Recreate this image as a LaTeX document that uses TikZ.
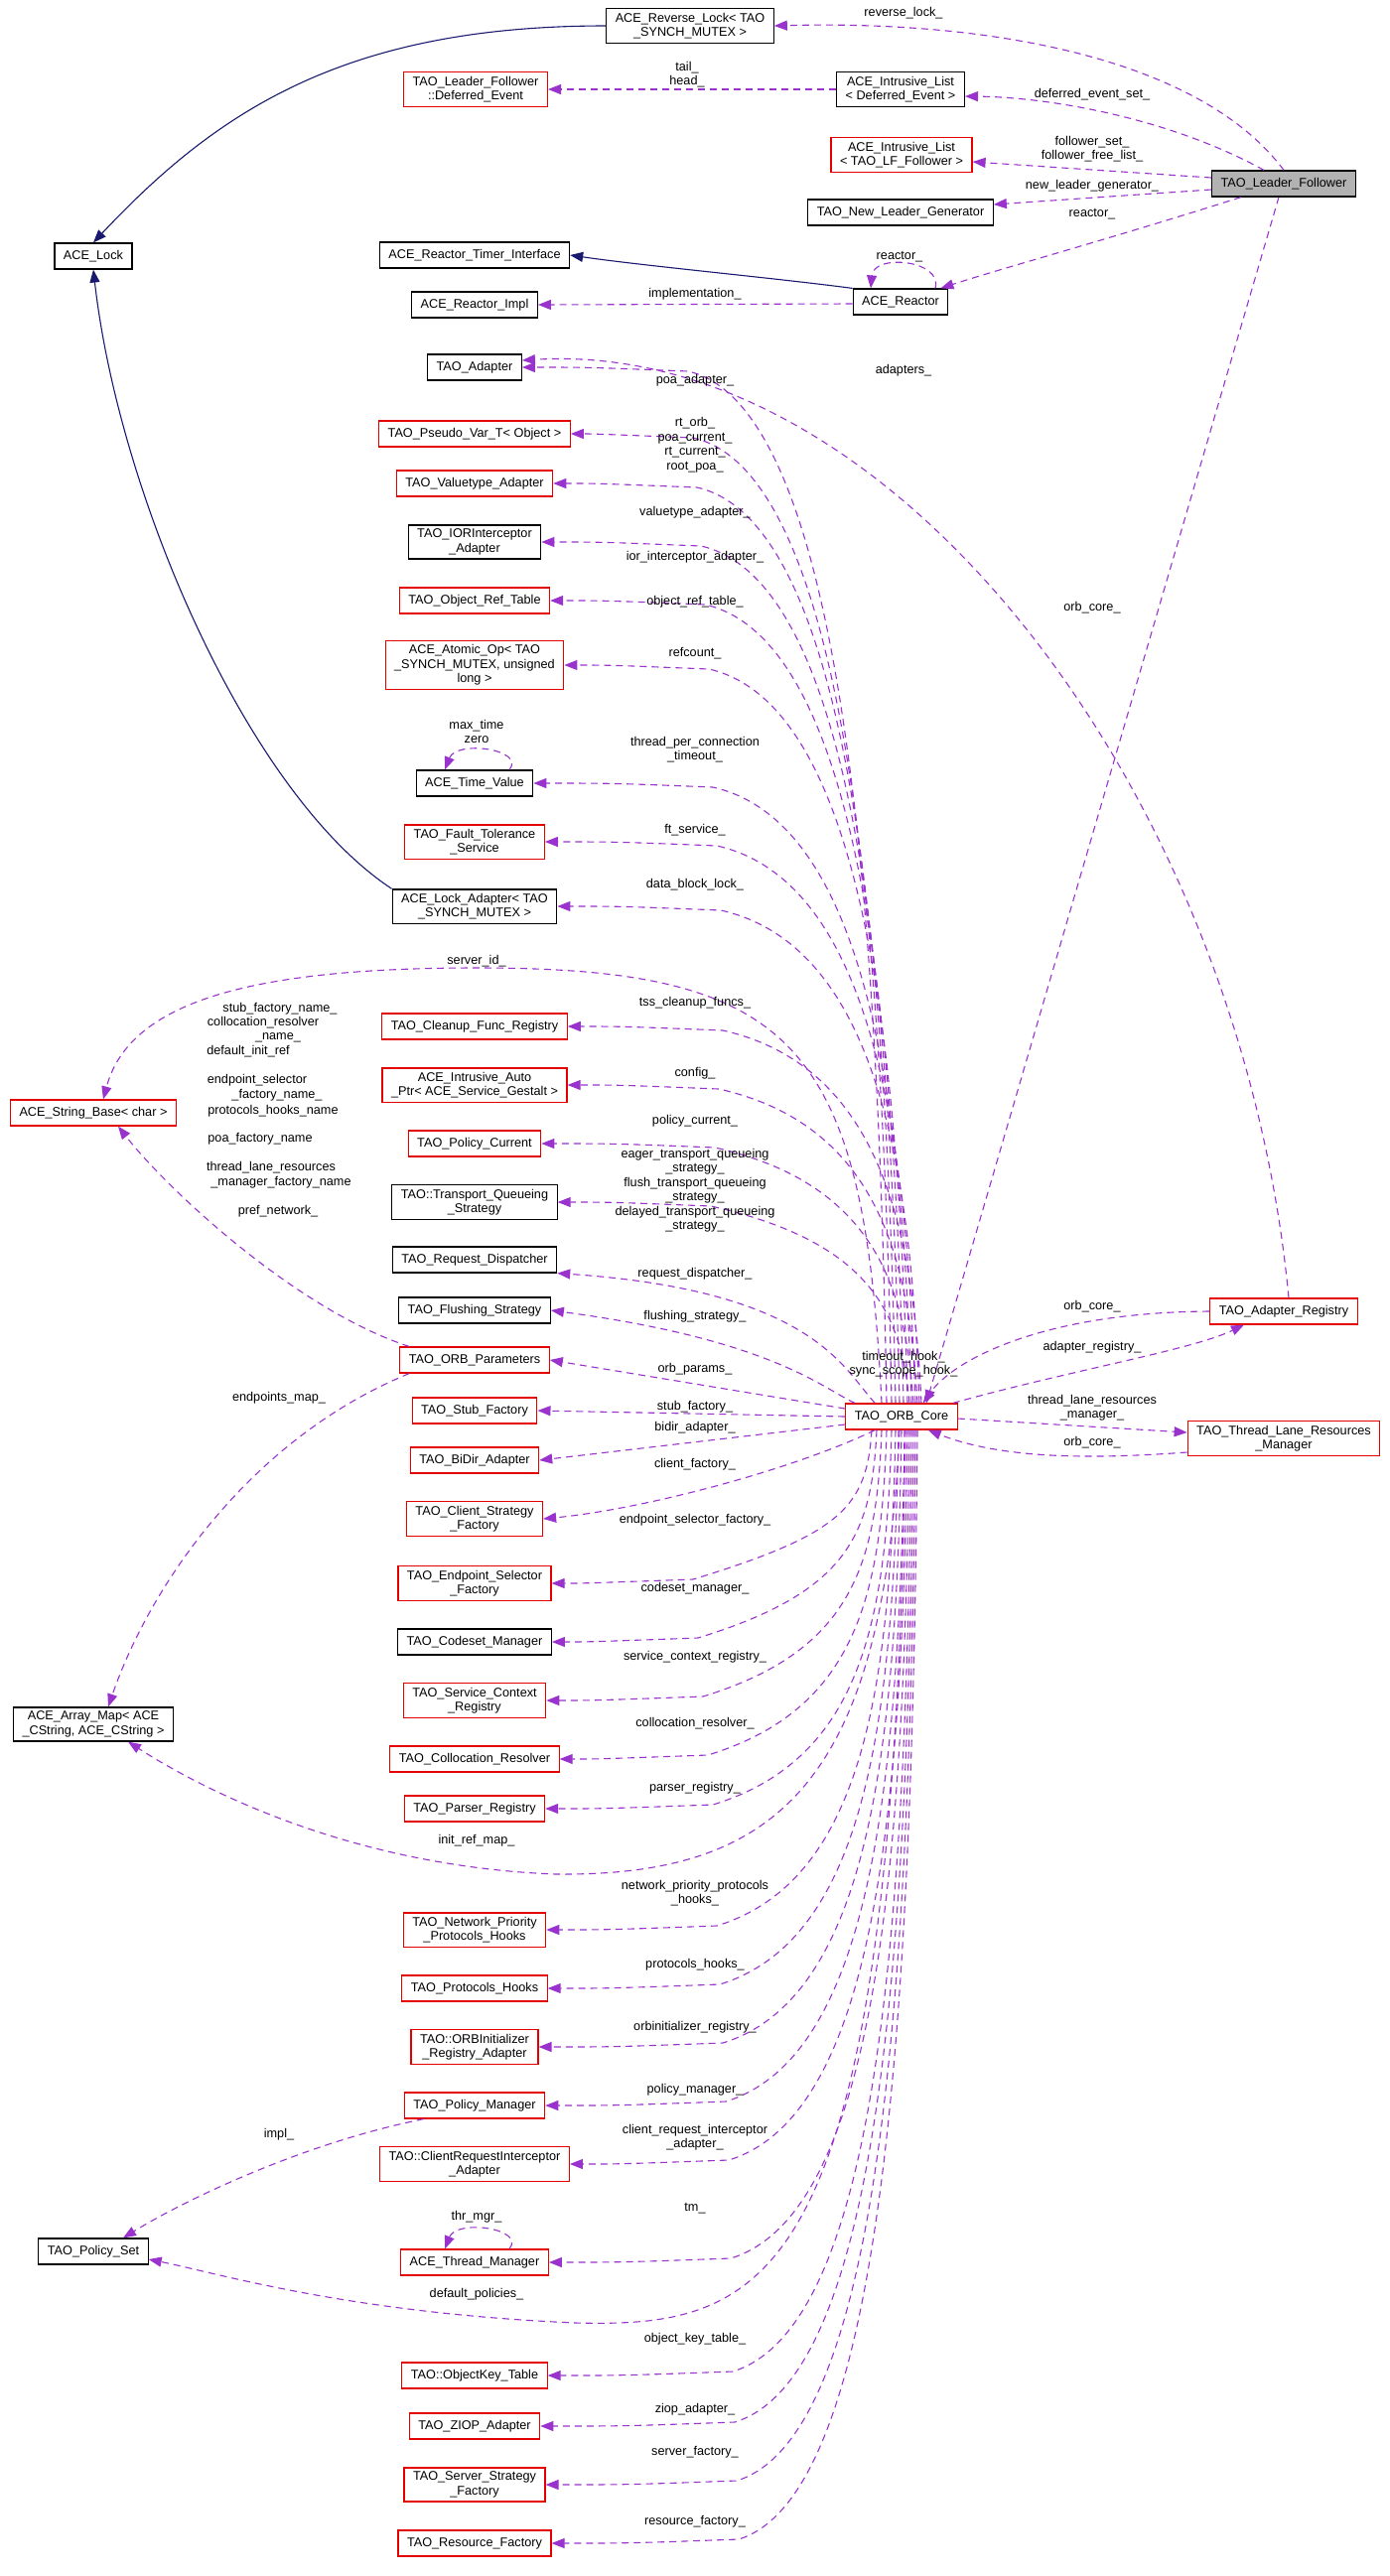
\documentclass[tikz,border=0pt]{standalone}
\usepackage{fontspec}
\setmainfont{Liberation Sans}
\usetikzlibrary{arrows.meta,calc}
\definecolor{dep}{HTML}{9A32CD}
\definecolor{inh}{HTML}{191970}
\tikzset{
  bx/.style={draw=black,line width=1.2pt,fill=white,align=center,inner xsep=9pt,inner ysep=4pt,minimum height=26pt,font=\fontsize{12.7}{14.5}\selectfont},
  rb/.style={bx,draw=red!90!black},
  lb/.style={align=center,inner sep=0pt,font=\fontsize{12.7}{14.5}\selectfont},
  dp/.style={draw=dep,line width=1.1pt,dash pattern=on 7pt off 5pt,-{Triangle[length=13pt,width=10pt,fill=dep]}},
  ih/.style={draw=inh,line width=1.1pt,-{Triangle[length=13pt,width=10pt,fill=inh]}},
}
\begin{document}
\begin{tikzpicture}[x=1pt,y=-1pt]
\useasboundingbox (0,0) rectangle (1400,2595);
% nodes
\node[bx] (rl) at (695,26) {ACE\_Reverse\_Lock< TAO\\\_SYNCH\_MUTEX >};
\node[rb] (de) at (479,90) {TAO\_Leader\_Follower\\::Deferred\_Event};
\node[bx] (ilde) at (907,90) {ACE\_Intrusive\_List\\< Deferred\_Event >};
\node[rb] (illf) at (908,156) {ACE\_Intrusive\_List\\< TAO\_LF\_Follower >};
\node[bx,fill=black!30] (lf) at (1293,185) {TAO\_Leader\_Follower};
\node[bx] (nlg) at (907,214) {TAO\_New\_Leader\_Generator};
\node[bx] (lock) at (94,258) {ACE\_Lock};
\node[bx] (rti) at (478,257) {ACE\_Reactor\_Timer\_Interface};
\node[bx] (rimpl) at (478,307) {ACE\_Reactor\_Impl};
\node[bx] (reac) at (907,304) {ACE\_Reactor};
\node[bx] (ad) at (478,370) {TAO\_Adapter};
\node[rb] (pv) at (478,437) {TAO\_Pseudo\_Var\_T< Object >};
\node[rb] (va) at (478,487) {TAO\_Valuetype\_Adapter};
\node[bx] (ior) at (478,546) {TAO\_IORInterceptor\\\_Adapter};
\node[rb] (ort) at (478,605) {TAO\_Object\_Ref\_Table};
\node[rb] (ao) at (478,670) {ACE\_Atomic\_Op< TAO\\\_SYNCH\_MUTEX, unsigned\\long >};
\node[bx] (tv) at (478,789) {ACE\_Time\_Value};
\node[rb] (ft) at (478,848) {TAO\_Fault\_Tolerance\\\_Service};
\node[bx] (la) at (478,913) {ACE\_Lock\_Adapter< TAO\\\_SYNCH\_MUTEX >};
\node[rb] (sb) at (94,1121) {ACE\_String\_Base< char >};
\node[rb] (cf) at (478,1034) {TAO\_Cleanup\_Func\_Registry};
\node[rb] (iap) at (478,1093) {ACE\_Intrusive\_Auto\\\_Ptr< ACE\_Service\_Gestalt >};
\node[rb] (pc) at (478,1152) {TAO\_Policy\_Current};
\node[bx] (tq) at (478,1211) {TAO::Transport\_Queueing\\\_Strategy};
\node[bx] (rd) at (478,1269) {TAO\_Request\_Dispatcher};
\node[bx] (fs) at (478,1320) {TAO\_Flushing\_Strategy};
\node[rb] (op) at (478,1370) {TAO\_ORB\_Parameters};
\node[rb] (sf) at (478,1421) {TAO\_Stub\_Factory};
\node[rb] (bd) at (478,1471) {TAO\_BiDir\_Adapter};
\node[rb] (cs) at (478,1530) {TAO\_Client\_Strategy\\\_Factory};
\node[rb] (es) at (478,1595) {TAO\_Endpoint\_Selector\\\_Factory};
\node[bx] (cm) at (478,1654) {TAO\_Codeset\_Manager};
\node[rb] (sc) at (478,1713) {TAO\_Service\_Context\\\_Registry};
\node[rb] (cr) at (478,1772) {TAO\_Collocation\_Resolver};
\node[rb] (pr) at (478,1822) {TAO\_Parser\_Registry};
\node[bx] (am) at (94,1737) {ACE\_Array\_Map< ACE\\\_CString, ACE\_CString >};
\node[rb] (np) at (478,1944) {TAO\_Network\_Priority\\\_Protocols\_Hooks};
\node[rb] (ph) at (478,2003) {TAO\_Protocols\_Hooks};
\node[rb] (oi) at (478,2062) {TAO::ORBInitializer\\\_Registry\_Adapter};
\node[rb] (pm) at (478,2121) {TAO\_Policy\_Manager};
\node[rb] (cri) at (478,2180) {TAO::ClientRequestInterceptor\\\_Adapter};
\node[rb] (tm) at (478,2279) {ACE\_Thread\_Manager};
\node[bx] (ps) at (94,2268) {TAO\_Policy\_Set};
\node[rb] (ok) at (478,2393) {TAO::ObjectKey\_Table};
\node[rb] (zi) at (478,2444) {TAO\_ZIOP\_Adapter};
\node[rb] (ss) at (478,2503) {TAO\_Server\_Strategy\\\_Factory};
\node[rb] (rf) at (478,2562) {TAO\_Resource\_Factory};
\node[rb] (core) at (908,1427) {TAO\_ORB\_Core};
\node[rb] (ar) at (1293,1321) {TAO\_Adapter\_Registry};
\node[rb] (tl) at (1293,1449) {TAO\_Thread\_Lane\_Resources\\\_Manager};
% inheritance
\draw[ih] (rl.west) .. controls (350,26) and (220,110) .. (lock.north);
\draw[ih] (la.north west) .. controls (250,800) and (120,500) .. (lock.south);
\draw[ih] (reac.north west) .. controls (780,280) and (650,268) .. (rti.east);
% leader follower
\draw[dp] (lf.north) .. controls (1210,60) and (1000,20) .. (rl.east);
\draw[dp] ($(lf.north)+(-20,0)$) .. controls (1180,120) and (1060,98) .. ($(ilde.east)+(0,7)$);
\draw[dp] ($(lf.west)+(0,-6)$) -- ($(illf.east)+(0,7)$);
\draw[dp] ($(lf.west)+(0,6)$) -- ($(nlg.east)+(0,-8)$);
\draw[dp] ($(lf.south west)+(30,0)$) .. controls (1120,240) and (1010,270) .. ($(reac.north east)+(-8,0)$);
\draw[dp] ($(lf.south)+(-5,0)$) -- ($(core.north)+(25,0)$);
\draw[dp] (ilde.west) -- (de.east);
\draw[dp] ($(reac.west)+(0,2)$) -- (rimpl.east);
\draw[dp] ($(reac.north)+(35,0)$) .. controls (950,262) and (880,255) .. ($(reac.north)+(-30,0)$);
\draw[dp] ($(tv.north)+(35,0)$) .. controls (530,755) and (460,745) .. ($(tv.north)+(-30,0)$);
\draw[dp] ($(tm.north)+(35,0)$) .. controls (530,2245) and (460,2235) .. ($(tm.north)+(-30,0)$);
% adapter registry / thread lane
\draw[dp] ($(ar.north)+(5,0)$) .. controls (1250,800) and (900,340) .. ($(ad.east)+(0,-7)$);
\draw[dp] (ar.west) .. controls (1050,1322) and (960,1370) .. ($(core.north east)+(-35,0)$);
\draw[dp] ($(core.north east)+(-5,0)$) .. controls (1080,1380) and (1200,1360) .. ($(ar.south)+(-40,0)$);
\draw[dp] ($(core.east)+(0,2)$) -- ($(tl.west)+(0,-6)$);
\draw[dp] ($(tl.west)+(0,14)$) .. controls (1100,1470) and (1010,1470) .. ($(core.south east)+(-30,0)$);
% orb core to upper column
\foreach \nm/\xs in {ad/-15,pv/-10,va/-6,ior/-2,ort/2,ao/6,tv/10,ft/14,la/18,cf/20,iap/16,pc/12,tq/8}{
  \draw[dp] let \p1=(\nm.east), \p2=($(core.north)+(\xs,0)$) in
    (\p2) .. controls ({\x2-8pt},{0.45*\y1+0.55*\y2}) and ({\x2-40pt},{\y1-40pt}) .. ({\x2-200pt},{\y1-4pt}) .. controls ({\x2-300pt},{\y1}) .. (\p1);
}
\draw[dp] ($(core.north west)+(30,0)$) .. controls (850,1380) and (820,1300) .. (rd.south east);
\draw[dp] ($(core.north west)+(10,0)$) .. controls (830,1400) and (780,1350) .. (fs.east);
\draw[dp] ($(core.west)+(0,-8)$) -- (op.east);
\draw[dp] (core.west) -- (sf.east);
\draw[dp] ($(core.west)+(0,8)$) -- (bd.east);
\draw[dp] ($(core.south west)+(30,0)$) .. controls (800,1480) and (650,1520) .. (cs.east);
% orb core to lower column
\foreach \nm/\xs in {es/-30,cm/-25,sc/-20,cr/-15,pr/-10,np/-6,ph/-3,oi/0,pm/3,cri/6,tm/8,ok/10,zi/12,ss/14,rf/16}{
  \draw[dp] let \p1=(\nm.east), \p2=($(core.south)+(\xs,0)$) in
    (\p2) .. controls ({\x2-5pt},{0.5*\y1+0.5*\y2}) and ({\x2-30pt},{\y1+50pt}) .. ({\x2-180pt},{\y1+4pt}) .. controls ({\x2-290pt},{\y1}) .. (\p1);
}
% to left column
\draw[dp] ($(core.north)+(-20,0)$) .. controls (870,1050) and (800,975) .. (480,975) .. controls (250,975) and (130,1010) .. ($(sb.north)+(10,0)$);
\draw[dp] ($(op.north west)+(10,0)$) .. controls (300,1320) and (170,1200) .. ($(sb.south)+(25,0)$);
\draw[dp] ($(op.south west)+(10,0)$) .. controls (250,1450) and (150,1600) .. ($(am.north)+(15,0)$);
\draw[dp] ($(core.south)+(-2,0)$) .. controls (890,1800) and (780,1890) .. (560,1888) .. controls (350,1880) and (200,1800) .. ($(am.south)+(35,0)$);
\draw[dp] ($(pm.south west)+(20,0)$) .. controls (300,2160) and (180,2220) .. ($(ps.north)+(30,0)$);
\draw[dp] ($(core.south)+(4,0)$) .. controls (900,2300) and (780,2345) .. (580,2340) .. controls (350,2330) and (220,2290) .. ($(ps.east)+(0,8)$);
% labels
\node[lb] at (910,13) {reverse\_lock\_};
\node[lb] at (692,75) {tail\_\\head\_};
\node[lb] at (1100,95) {deferred\_event\_set\_};
\node[lb] at (1100,150) {follower\_set\_\\follower\_free\_list\_};
\node[lb] at (1100,187) {new\_leader\_generator\_};
\node[lb] at (1100,216) {reactor\_};
\node[lb] at (906,259) {reactor\_};
\node[lb] at (700,296) {implementation\_};
\node[lb] at (910,373) {adapters\_};
\node[lb] at (1100,612) {orb\_core\_};
\node[lb] at (700,383) {poa\_adapter\_};
\node[lb] at (700,448) {rt\_orb\_\\poa\_current\_\\rt\_current\_\\root\_poa\_};
\node[lb] at (700,516) {valuetype\_adapter\_};
\node[lb] at (700,561) {ior\_interceptor\_adapter\_};
\node[lb] at (700,606) {object\_ref\_table\_};
\node[lb] at (700,658) {refcount\_};
\node[lb] at (480,737) {max\_time\\zero};
\node[lb] at (700,755) {thread\_per\_connection\\\_timeout\_};
\node[lb] at (700,836) {ft\_service\_};
\node[lb] at (700,891) {data\_block\_lock\_};
\node[lb] at (480,968) {server\_id\_};
\node[lb] at (700,1010) {tss\_cleanup\_funcs\_};
\node[lb] at (700,1081) {config\_};
\node[lb] at (700,1129) {policy\_current\_};
\node[lb] at (700,1199) {eager\_transport\_queueing\\\_strategy\_\\flush\_transport\_queueing\\\_strategy\_\\delayed\_transport\_queueing\\\_strategy\_};
\node[lb] at (700,1283) {request\_dispatcher\_};
\node[lb] at (700,1326) {flushing\_strategy\_};
\node[lb] at (700,1379) {orb\_params\_};
\node[lb] at (700,1417) {stub\_factory\_};
\node[lb] at (700,1438) {bidir\_adapter\_};
\node[lb] at (700,1475) {client\_factory\_};
\node[lb] at (700,1531) {endpoint\_selector\_factory\_};
\node[lb] at (700,1600) {codeset\_manager\_};
\node[lb] at (700,1669) {service\_context\_registry\_};
\node[lb] at (700,1736) {collocation\_resolver\_};
\node[lb] at (700,1801) {parser\_registry\_};
\node[lb] at (700,1907) {network\_priority\_protocols\\\_hooks\_};
\node[lb] at (700,1979) {protocols\_hooks\_};
\node[lb] at (700,2042) {orbinitializer\_registry\_};
\node[lb] at (700,2105) {policy\_manager\_};
\node[lb] at (700,2153) {client\_request\_interceptor\\\_adapter\_};
\node[lb] at (700,2225) {tm\_};
\node[lb] at (700,2356) {object\_key\_table\_};
\node[lb] at (700,2427) {ziop\_adapter\_};
\node[lb] at (700,2470) {server\_factory\_};
\node[lb] at (700,2540) {resource\_factory\_};
\node[lb] at (480,2233) {thr\_mgr\_};
\node[lb] at (281,2150) {impl\_};
\node[lb] at (480,2311) {default\_policies\_};
\node[lb] at (281,1408) {endpoints\_map\_};
\node[lb] at (480,1854) {init\_ref\_map\_};
\node[lb] at (910,1374) {timeout\_hook\_\\sync\_scope\_hook\_};
\node[lb] at (1100,1316) {orb\_core\_};
\node[lb] at (1100,1357) {adapter\_registry\_};
\node[lb] at (1100,1418) {thread\_lane\_resources\\\_manager\_};
\node[lb] at (1100,1453) {orb\_core\_};
\node[lb] at (282,1016) {stub\_factory\_name\_};
\node[lb] at (265,1030) {collocation\_resolver};
\node[lb] at (280,1045) {\_name\_};
\node[lb] at (250,1059) {default\_init\_ref};
\node[lb] at (259,1088) {endpoint\_selector};
\node[lb] at (279,1103) {\_factory\_name\_};
\node[lb] at (275,1119) {protocols\_hooks\_name};
\node[lb] at (262,1147) {poa\_factory\_name};
\node[lb] at (273,1176) {thread\_lane\_resources};
\node[lb] at (283,1191) {\_manager\_factory\_name};
\node[lb] at (280,1220) {pref\_network\_};
\end{tikzpicture}
\end{document}
